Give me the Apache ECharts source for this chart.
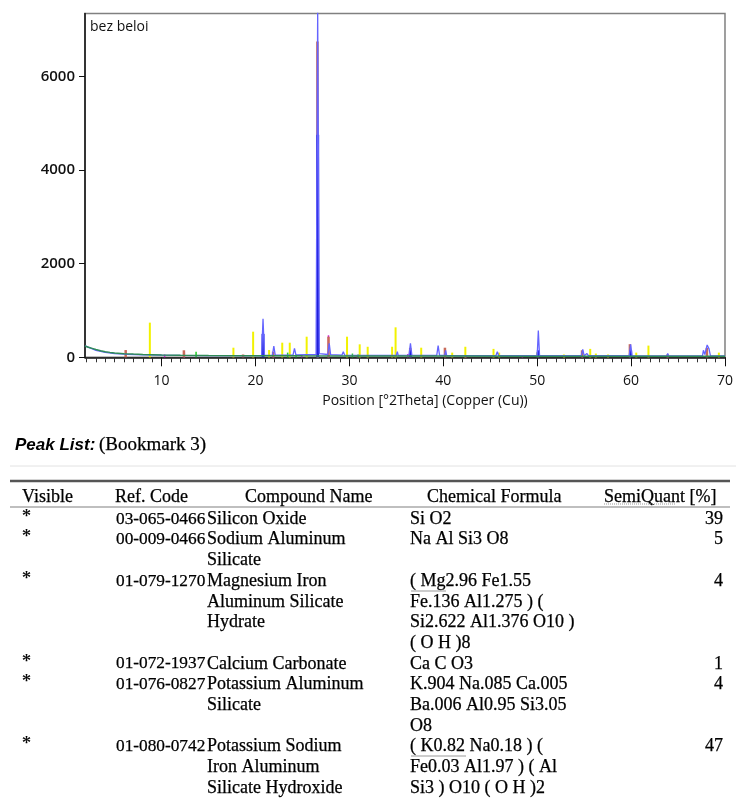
<!DOCTYPE html>
<html><head><meta charset="utf-8">
<script src="https://cdn.jsdelivr.net/npm/echarts@6/dist/echarts.min.js"></script>
<style>html,body{margin:0;padding:0;background:#fff}#c{width:736px;height:799px}</style>
</head><body><div id="c"></div>
<script>
// ---------- chart data ----------
const sampleLabel = 'bez beloi';
const xAxisTitle = 'Position [°2Theta] (Copper (Cu))';
const xTickValues = [10, 20, 30, 40, 50, 60, 70];
const yTickValues = [0, 2000, 4000, 6000];
const xMin = 1.84, xMax = 70, yMax = 7340;

// measured pattern (position, counts)
const measured = [
  [1.84,245],[2.5,190],[3,150],[4,105],[5,80],[6,66],[6.1,66],[6.2,90],[6.3,62],[8,52],[10,45],[12,40],[15,36],[18,34],
  [20.65,35],[20.8,820],[20.95,40],[21.8,45],[21.95,240],[22.1,45],[24.0,50],[24.15,190],[24.3,50],
  [26.45,60],[26.62,7400],[26.8,80],[27.7,60],[27.85,300],[28.0,55],[29.2,45],[29.35,120],[29.5,45],
  [35.0,40],[35.1,120],[35.2,40],[36.35,45],[36.5,300],[36.65,45],[39.3,40],[39.45,250],[39.6,40],
  [40.15,40],[40.25,150],[40.35,40],[45.6,35],[45.75,120],[45.9,35],[50.0,35],[50.12,570],[50.25,35],
  [54.7,35],[54.85,170],[55.0,35],[55.2,35],[55.3,80],[55.45,35],[59.8,35],[59.95,277],[60.1,35],
  [63.8,30],[63.9,80],[64.0,30],[67.6,30],[67.7,150],[67.85,60],[68.1,262],[68.3,180],[68.45,30],[70,30]
];
// fitted background curve
const background = [
  [1.84,241],[2.2,215],[2.6,190],[3,165],[3.5,140],[4,120],[4.5,105],[5,94],[6,78],[7,68],[8,60],[10,50],
  [12,44],[15,39],[20,35],[25,32],[30,30],[40,27],[50,24],[60,22],[70,20]
];
// reference pattern sticks (position, intensity)
const sticksYellow = [
  [8.8,740],[17.7,205],[19.8,547],[21.5,155],[22.9,312],[23.7,312],[25.5,440],[26.7,440],[29.8,440],
  [31.15,277],[32.0,225],[34.6,225],[34.97,640],[37.7,205],[41.0,100],[42.4,225],[45.4,180],[46.0,100],
  [52.9,60],[55.7,180],[56.3,80],[57.6,60],[60.6,100],[61.9,250],[69.4,100]
];
const sticksRed = [
  [6.2,155],[12.4,150],[18.7,60],[21.9,120],[26.62,6740],[27.8,440],[36.5,200],[40.2,205],[50.1,100],
  [54.8,150],[59.9,280],[63.9,60],[68.1,200]
];
const sticksMagenta = [
  [10.4,60],[12.5,100],[22.0,90],[25.0,50],[27.85,470],[30.9,40],[36.3,70],[42.5,50],[48.5,40],[54.9,70],[64.0,50]
];
const sticksGreen = [
  [13.75,120],[23.5,100],[24.4,60],[30.4,80],[31.0,60],[50.1,110],[60.0,60]
];
const sticksBlue = [
  [26.62,4750],[20.8,500],[50.12,150],[36.5,150],[59.95,150]
];

// ---------- table text ----------
const tableTitle = 'Peak List:';
const tableSubtitle = '(Bookmark 3)';
const tableHeaders = ['Visible', 'Ref. Code', 'Compound Name', 'Chemical Formula', 'SemiQuant [%]'];
const visibleCol = ['*', '*', '*', '*', '*', '*'];
const refCodes = ['03-065-0466', '00-009-0466', '01-079-1270', '01-072-1937', '01-076-0827', '01-080-0742'];
const compoundNames = [
  ['Silicon Oxide'],
  ['Sodium Aluminum', 'Silicate'],
  ['Magnesium Iron', 'Aluminum Silicate', 'Hydrate'],
  ['Calcium Carbonate'],
  ['Potassium Aluminum', 'Silicate'],
  ['Potassium Sodium', 'Iron Aluminum', 'Silicate Hydroxide']
];
const formulas = [
  ['Si O2'],
  ['Na Al Si3 O8'],
  ['( Mg2.96 Fe1.55', 'Fe.136 Al1.275 ) (', 'Si2.622 Al1.376 O10 )', '( O H )8'],
  ['Ca C O3'],
  ['K.904 Na.085 Ca.005', 'Ba.006 Al0.95 Si3.05', 'O8'],
  ['( K0.82 Na0.18 ) (', 'Fe0.03 Al1.97 ) ( Al', 'Si3 ) O10 ( O H )2']
];
const semiQuant = ['39', '5', '4', '1', '4', '47'];

// ---------- build ----------
const chart = echarts.init(document.getElementById('c'));
const minorTicks = [];
for (let v = 2; v < 70; v++) if (v % 10 !== 0) minorTicks.push(v);

const serif = '"Liberation Serif", "Times New Roman", serif';
const sans = '"Open Sans", sans-serif';
const FS = 18;
const lineH = 20.7;
const firstLineY = 519;
const colX = [22, 116, 207, 410];
const semiRight = 723;

const g = [];
function txt(x, y, text, extra) {
  g.push({type: 'text', x: x, y: y, silent: true,
    style: Object.assign({text: text, fill: '#000', font: FS + 'px ' + serif, textVerticalAlign: 'middle', verticalAlign: 'middle',
      stroke: '#000', lineWidth: 0.25}, extra || {})});
}
function ln(x1, y1, x2, y2, stroke, w, dash) {
  g.push({type: 'line', silent: true, shape: {x1, y1, x2, y2}, style: {stroke: stroke, lineWidth: w, lineDash: dash || null}});
}
// chart texts
txt(90, 27, sampleLabel, {font: '14px ' + sans, fill: '#111', lineWidth: 0});
txt(425, 401, xAxisTitle, {font: '14px ' + sans, fill: '#111', align: 'center', textAlign: 'center', lineWidth: 0});
// table heading
txt(15, 445, tableTitle, {font: 'italic bold 17px "Liberation Sans", Arial, sans-serif', lineWidth: 0});
txt(99, 445, tableSubtitle, {font: '19px ' + serif});
ln(10, 466, 736, 466, '#e2e2e2', 1);
ln(10, 481, 730, 481, '#555', 2.5);
ln(10, 507, 730, 507, '#aaa', 1.5);
const headerX = [22, 115, 245, 427, 604];
tableHeaders.forEach((h, i) => txt(headerX[i], 497, h));
ln(604, 504, 676, 504, '#999', 1, [1, 1]);
let line = 0;
for (let r = 0; r < refCodes.length; r++) {
  const y0 = firstLineY + line * lineH;
  txt(colX[0], y0 - 2, visibleCol[r]);
  txt(colX[1], y0, refCodes[r], {font: '17.3px ' + serif});
  compoundNames[r].forEach((t, k) => txt(colX[2], y0 + k * lineH, t));
  formulas[r].forEach((t, k) => txt(colX[3], y0 + k * lineH, t));
  txt(semiRight, y0, semiQuant[r], {align: 'right', textAlign: 'right'});
  line += Math.max(compoundNames[r].length, formulas[r].length);
}
ln(411, 591, 446, 591, '#999', 1);
ln(411, 756, 466, 756, '#999', 1);

function stickSeries(name, data, color, w) {
  return {name: name, type: 'bar', data: data, barWidth: w, barGap: '-100%', itemStyle: {color: color},
    silent: true, animation: false, xAxisIndex: 0, yAxisIndex: 0};
}

chart.setOption({
  animation: false,
  backgroundColor: '#fff',
  grid: {left: 85, top: 13.5, right: 9, bottom: 441.7, show: true, borderColor: '#808080', borderWidth: 1.5, backgroundColor: 'transparent'},
  xAxis: [{
    type: 'value', min: xMin, max: xMax, position: 'bottom',
    axisLine: {show: true, onZero: false, lineStyle: {color: '#111', width: 1.5}},
    axisTick: {show: true, inside: false, length: 9, customValues: xTickValues, lineStyle: {color: '#111', width: 1}},
    axisLabel: {show: true, customValues: xTickValues, margin: 17, color: '#111', fontFamily: sans, fontSize: 14, fontWeight: 500},
    splitLine: {show: false}
  }, {
    type: 'value', min: xMin, max: xMax, position: 'bottom', offset: 0,
    axisLine: {show: false},
    axisTick: {show: true, length: 5, customValues: minorTicks, lineStyle: {color: '#333', width: 1}},
    axisLabel: {show: false},
    splitLine: {show: false}
  }],
  yAxis: {
    type: 'value', min: 0, max: yMax,
    axisLine: {show: true, onZero: false, lineStyle: {color: '#111', width: 1.5}},
    axisTick: {show: true, length: 6, customValues: yTickValues, lineStyle: {color: '#111', width: 1}},
    axisLabel: {show: true, customValues: yTickValues, margin: 10, color: '#111', fontFamily: sans, fontSize: 15, fontWeight: 600,
      formatter: v => String(v)},
    splitLine: {show: false}
  },
  series: [
    {name: 'measured', type: 'line', data: measured, showSymbol: false, symbol: 'none', lineStyle: {color: '#6464ff', width: 1.3}, z: 2, silent: true},
    stickSeries('yellow', sticksYellow, '#f2f200', 2),
    stickSeries('magenta', sticksMagenta, '#d020d0', 1.5),
    stickSeries('green', sticksGreen, '#20d020', 1.5),
    stickSeries('red', sticksRed, '#c86a5a', 2.5),
    stickSeries('blue', sticksBlue, '#2020d8', 3),
    {name: 'background', type: 'line', data: background, showSymbol: false, symbol: 'none', lineStyle: {color: '#2e8b57', width: 1.5}, z: 3, silent: true}
  ],
  graphic: g
});
</script></body></html>
